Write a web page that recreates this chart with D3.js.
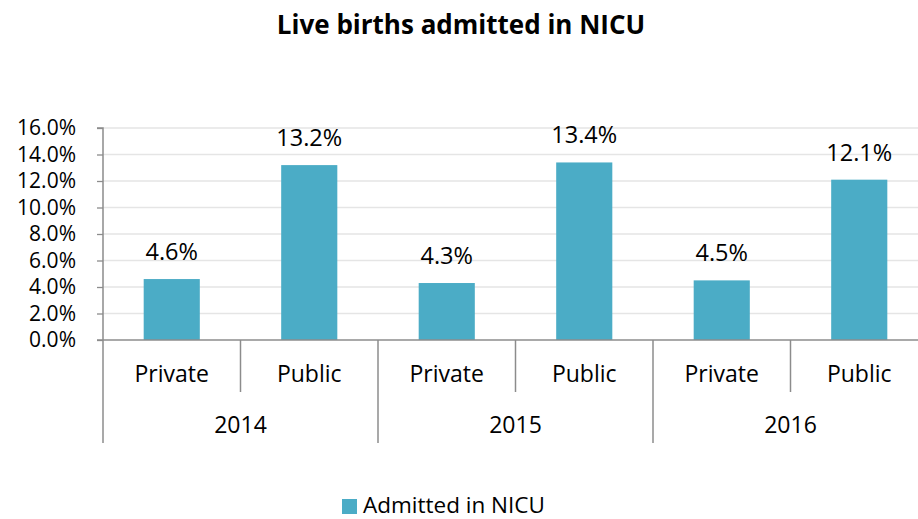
<!DOCTYPE html>
<html>
<head>
<meta charset="utf-8">
<script src="https://cdn.jsdelivr.net/npm/d3@7/dist/d3.min.js"></script>
<style>
  html, body { margin: 0; padding: 0; background: #fff; }
  svg { display: block; font-family: "Open Sans", Lato, sans-serif; }
</style>
</head>
<body>
<svg id="chart" width="918" height="519"></svg>
<script>
// Share of live births admitted in NICU, by year and sector
const years = ["2014", "2015", "2016"];
const sectors = ["Private", "Public"];
const admitted = [4.6, 13.2, 4.3, 13.4, 4.5, 12.1];
const yTicks = [0, 2, 4, 6, 8, 10, 12, 14, 16];
const seriesName = "Admitted in NICU";
const chartTitle = "Live births admitted in NICU";

const rows = [];
years.forEach((yr, i) => sectors.forEach((s, j) => {
  rows.push({ key: yr + "|" + s, year: yr, sector: s, value: admitted[i * sectors.length + j] });
}));

const svg = d3.select("#chart");
const W = 918, H = 519;
const m = { left: 103, right: -10, top: 128, bottom: 179 };
const x0 = m.left, x1 = W - m.right;
const yBottom = H - m.bottom;

const color = "#4BACC6";
const axisColor = "#8c8c8c";
const gridColor = "#e5e5e5";
const font = "'Open Sans', Lato, sans-serif";

const x = d3.scaleBand().domain(rows.map(d => d.key)).range([x0, x1]).paddingInner(0).paddingOuter(0);
const xYear = d3.scaleBand().domain(years).range([x0, x1]);
const y = d3.scaleLinear().domain([0, 16]).range([yBottom, m.top]);

// Title
svg.append("text")
  .attr("x", 461).attr("y", 34)
  .attr("text-anchor", "middle")
  .attr("font-size", 26).attr("font-weight", "bold").attr("fill", "#000")
  .text(chartTitle);

// Gridlines
svg.append("g").selectAll("line").data(yTicks.filter(t => t > 0)).join("line")
  .attr("x1", x0).attr("x2", x1)
  .attr("y1", d => y(d)).attr("y2", d => y(d))
  .attr("stroke", gridColor).attr("stroke-width", 1.3);

// Y axis
const yAxis = d3.axisLeft(y).tickValues(yTicks).tickFormat(d => d.toFixed(1) + "%").tickSize(6).tickPadding(20);
const gy = svg.append("g").attr("transform", `translate(${x0},0)`).call(yAxis);
gy.select(".domain").attr("stroke", axisColor).attr("stroke-width", 1.5).attr("d", `M-6,${m.top}H0V${yBottom}`);
gy.selectAll(".tick line").attr("stroke", axisColor).attr("stroke-width", 1.3);
gy.selectAll(".tick text").attr("font-size", 21).attr("fill", "#000").attr("font-family", font).attr("dx", -1);

// Bars
const barW = x.bandwidth() / 2.45;
svg.append("g").selectAll("rect").data(rows).join("rect")
  .attr("x", d => x(d.key) + (x.bandwidth() - barW) / 2)
  .attr("width", barW)
  .attr("y", d => y(d.value))
  .attr("height", d => y(0) - y(d.value))
  .attr("fill", color);

// Data labels
svg.append("g").selectAll("text").data(rows).join("text")
  .attr("x", d => x(d.key) + x.bandwidth() / 2)
  .attr("y", d => y(d.value) - 19)
  .attr("text-anchor", "middle")
  .attr("font-size", 23.5).attr("fill", "#000")
  .text(d => d.value.toFixed(1) + "%");

// Category axis baseline
svg.append("line")
  .attr("x1", x0 - 6).attr("x2", x1)
  .attr("y1", yBottom).attr("y2", yBottom)
  .attr("stroke", axisColor).attr("stroke-width", 1.5);

// Dividers between sectors within a year
const innerDiv = years.map(yr => x(yr + "|" + sectors[1]));
svg.append("g").selectAll("line").data(innerDiv).join("line")
  .attr("x1", d => d).attr("x2", d => d)
  .attr("y1", yBottom).attr("y2", yBottom + 52)
  .attr("stroke", axisColor).attr("stroke-width", 1.5);

// Dividers between years (including the axis line extension)
const outerDiv = years.map(yr => xYear(yr));
svg.append("g").selectAll("line").data(outerDiv).join("line")
  .attr("x1", d => d).attr("x2", d => d)
  .attr("y1", yBottom).attr("y2", yBottom + 103)
  .attr("stroke", axisColor).attr("stroke-width", 1.5);

// Sector labels
svg.append("g").selectAll("text").data(rows).join("text")
  .attr("x", d => x(d.key) + x.bandwidth() / 2)
  .attr("y", yBottom + 42)
  .attr("text-anchor", "middle")
  .attr("font-size", 23).attr("fill", "#000")
  .text(d => d.sector);

// Year labels
svg.append("g").selectAll("text").data(years).join("text")
  .attr("x", d => xYear(d) + xYear.bandwidth() / 2)
  .attr("y", yBottom + 93)
  .attr("text-anchor", "middle")
  .attr("font-size", 23).attr("fill", "#000")
  .text(d => d);

// Legend
const lg = svg.append("g").attr("transform", "translate(342,499)");
lg.append("rect").attr("width", 15).attr("height", 15).attr("fill", color);
lg.append("text").attr("x", 21).attr("y", 14)
  .attr("font-size", 22.5).attr("fill", "#000")
  .text(seriesName);
</script>
</body>
</html>
